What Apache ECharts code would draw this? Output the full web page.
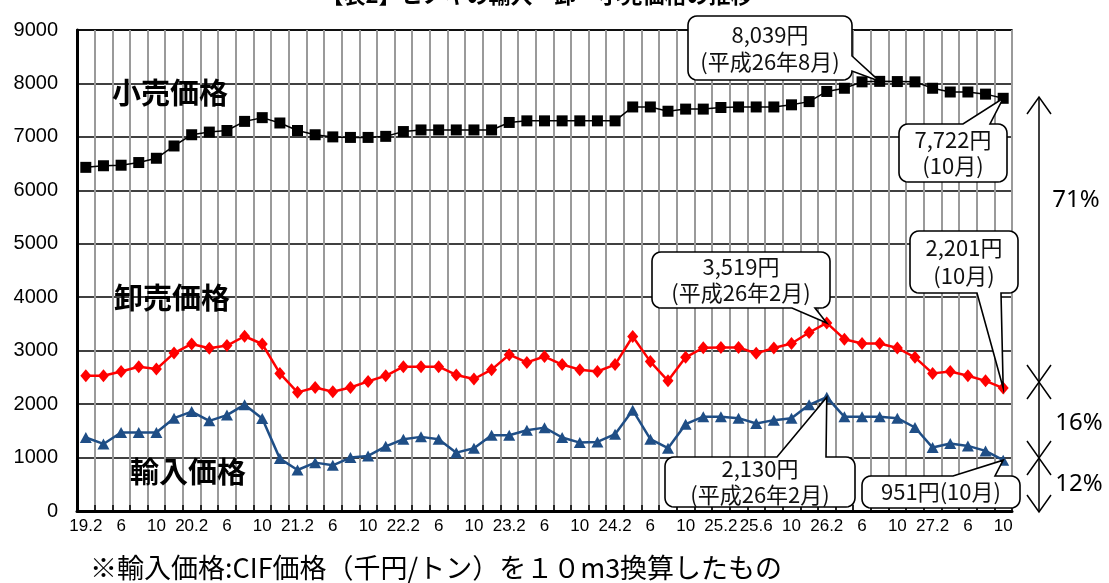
<!DOCTYPE html>
<html><head><meta charset="utf-8">
<script src="https://cdn.jsdelivr.net/npm/echarts@6/dist/echarts.min.js"></script>
<style>html,body{margin:0;padding:0;background:#fff}#c{width:1109px;height:583px}</style>
</head><body><div id="c"></div>
<script>
// bimonthly periods (平成19年2月 … 平成27年10月)
const categories = [
 '19.2','19.4','19.6','19.8','19.10','19.12',
 '20.2','20.4','20.6','20.8','20.10','20.12',
 '21.2','21.4','21.6','21.8','21.10','21.12',
 '22.2','22.4','22.6','22.8','22.10','22.12',
 '23.2','23.4','23.6','23.8','23.10','23.12',
 '24.2','24.4','24.6','24.8','24.10','24.12',
 '25.2','25.4','25.6','25.8','25.10','25.12',
 '26.2','26.4','26.6','26.8','26.10','26.12',
 '27.2','27.4','27.6','27.8','27.10'];
const tickLabels = [
 '19.2','','6','','10','',
 '20.2','','6','','10','',
 '21.2','','6','','10','',
 '22.2','','6','','10','',
 '23.2','','6','','10','',
 '24.2','','6','','10','',
 '25.2','','25.6','','10','',
 '26.2','','6','','10','',
 '27.2','','6','','10'];
const retail = [
 6430,6460,6470,6520,6600,6830,
 7040,7090,7120,7290,7360,7260,
 7120,7040,7000,6990,6990,7010,
 7100,7130,7130,7130,7130,7130,
 7270,7300,7300,7300,7300,7300,
 7300,7560,7560,7480,7520,7520,
 7550,7560,7560,7560,7600,7660,
 7850,7910,8030,8039,8035,8030,
 7910,7840,7840,7800,7722];
const wholesale = [
 2530,2530,2610,2700,2655,2955,
 3125,3045,3095,3270,3125,2575,
 2220,2310,2230,2310,2425,2530,
 2700,2700,2700,2545,2470,2645,
 2925,2780,2890,2740,2645,2610,
 2740,3265,2795,2435,2875,3055,
 3060,3060,2950,3050,3135,3340,
 3519,3215,3135,3135,3050,2875,
 2575,2610,2530,2435,2300];
const importPrice = [
 1375,1255,1470,1470,1470,1737,
 1860,1687,1794,1990,1730,980,
 767,905,855,1000,1030,1210,
 1343,1387,1343,1092,1175,1418,
 1418,1512,1560,1375,1280,1293,
 1437,1887,1343,1175,1625,1765,
 1762,1737,1637,1700,1737,1987,
 2130,1762,1762,1762,1737,1562,
 1187,1262,1218,1125,951];
const seriesNames = ['小売価格','卸売価格','輸入価格'];
const yTicks = {min:0, max:9000, interval:1000};

const JP = '"Noto Sans CJK JP", sans-serif';
const chart = echarts.init(document.getElementById('c'));
chart.setOption({
  animation:false,
  grid:{left:77,right:97,top:30,bottom:72,show:true,borderColor:'#000',borderWidth:1.5},
  xAxis:{type:'category',data:categories,boundaryGap:true,
    axisLine:{show:true,lineStyle:{color:'#000',width:3}},
    axisTick:{show:true,inside:true,length:6,interval:0,lineStyle:{color:'#000',width:1.5}},
    axisLabel:{interval:0,formatter:(v,i)=>tickLabels[i],color:'#000',
      fontFamily:'"Liberation Sans",sans-serif',fontSize:17,margin:7},
    splitLine:{show:true,interval:0,lineStyle:{color:'#9a9a9a',width:2}}},
  yAxis:{type:'value',min:yTicks.min,max:yTicks.max,interval:yTicks.interval,
    axisLine:{show:true,lineStyle:{color:'#000',width:3}},
    axisTick:{show:false},
    axisLabel:{color:'#000',fontFamily:'"Liberation Sans",sans-serif',fontSize:20,margin:19,
      formatter:v=>String(v)},
    splitLine:{show:true,lineStyle:{color:'#000',width:1.5}}},
  series:[
    {name:seriesNames[0],type:'line',data:retail,symbol:'rect',symbolSize:11,
     itemStyle:{color:'#000'},lineStyle:{color:'#000',width:1.5},z:5},
    {name:seriesNames[1],type:'line',data:wholesale,symbol:'diamond',symbolSize:[11,13],
     itemStyle:{color:'#ff0000'},lineStyle:{color:'#ff0000',width:2.5},z:4},
    {name:seriesNames[2],type:'line',data:importPrice,symbol:'triangle',symbolSize:[12,11],
     itemStyle:{color:'#1f4e86'},lineStyle:{color:'#1f4e86',width:2.5},z:3}
  ]
});

function px(s,i,v){return chart.convertToPixel({seriesIndex:s},[i,v]);}
function arc(cx,cy,r,a0,a1){const p=[];for(let k=0;k<=6;k++){const a=a0+(a1-a0)*k/6;p.push([cx+r*Math.cos(a),cy+r*Math.sin(a)]);}return p;}
function calloutPts(x,y,w,h,r,edge,a,b,t){
  const P=Math.PI;let p=[];
  p=p.concat(arc(x+r,y+r,r,P,1.5*P));
  if(edge==='top') p.push([a,y],t,[b,y]);
  p=p.concat(arc(x+w-r,y+r,r,1.5*P,2*P));
  if(edge==='right') p.push([x+w,a],t,[x+w,b]);
  p=p.concat(arc(x+w-r,y+h-r,r,0,0.5*P));
  if(edge==='bottom') p.push([b,y+h],t,[a,y+h]);
  p=p.concat(arc(x+r,y+h-r,r,0.5*P,P));
  return p;
}
function callout(box,edge,a,b,tip,lines,lh){
  const [x,y,w,h]=box;
  const els=[{type:'polygon',z:100,shape:{points:calloutPts(x,y,w,h,9,edge,a,b,tip)},
    style:{fill:'#fff',stroke:'#000',lineWidth:1.6}}];
  lines.forEach((t,k)=>els.push({type:'text',z:101,x:x+w/2,y:y+h/2+(k-(lines.length-1)/2)*lh,
    style:{text:t,fill:'#111',font:'22px '+JP,textAlign:'center',textVerticalAlign:'middle',align:'center',verticalAlign:'middle'}}));
  return els;
}
const last=categories.length-1;
const pk=42, rk=45;
let g=[];
g=g.concat(callout([688,16,164,64],'right',56,71,px(0,rk,retail[rk]),['8,039円','(平成26年8月)'],27));
g=g.concat(callout([899,124,108,58],'top',963,990,px(0,last,retail[last]),['7,722円','(10月)'],26));
g=g.concat(callout([910,231,108,62],'bottom',977,1001,px(1,last,wholesale[last]),['2,201円','(10月)'],28));
g=g.concat(callout([652,252,178,56],'bottom',792,815,px(1,pk,wholesale[pk]),['3,519円','(平成26年2月)'],26));
g=g.concat(callout([665,457,190,50],'top',777,826,px(2,pk,importPrice[pk]),['2,130円','(平成26年2月)'],26));
g=g.concat(callout([862,476,158,32],'top',953,995,px(2,last,importPrice[last]),['951円(10月)'],26));

function txt(x,y,t,font,align,va){return {type:'text',z:102,x:x,y:y,
  style:{text:t,fill:'#000',font:font,textAlign:align||'center',textVerticalAlign:va||'middle',align:align||'center',verticalAlign:va||'middle'}};}
g.push(txt(537,6,'【表2】ヒノキの輸入・卸・小売価格の推移','bold 22px '+JP,'center','bottom'));
g.push(txt(170,93,seriesNames[0],'bold 29px '+JP));
g.push(txt(172,298,seriesNames[1],'bold 29px '+JP));
g.push(txt(188,472,seriesNames[2],'bold 29px '+JP));
g.push(txt(90,568,'※輸入価格:CIF価格（千円/トン）を１０m3換算したもの','27px '+JP,'left','middle'));

// right-side ratio arrows
const ax=1039;
function line(pts){return {type:'polyline',z:102,shape:{points:pts},style:{stroke:'#000',lineWidth:1.5,fill:null}};}
function head(y,dir){return line([[ax-12,y-dir*17],[ax,y],[ax+12,y-dir*17]]);}
const marks=[97,382,458,512];
for(let k=0;k<3;k++){
  g.push(line([[ax,marks[k]],[ax,marks[k+1]]]));
  g.push(head(marks[k],-1));
  g.push(head(marks[k+1],1));
}
g.push(txt(1076,200,'71%','24px "Noto Sans", sans-serif'));
g.push(txt(1079,423,'16%','24px "Noto Sans", sans-serif'));
g.push(txt(1079,484,'12%','24px "Noto Sans", sans-serif'));
chart.setOption({graphic:{elements:g}});
</script></body></html>
